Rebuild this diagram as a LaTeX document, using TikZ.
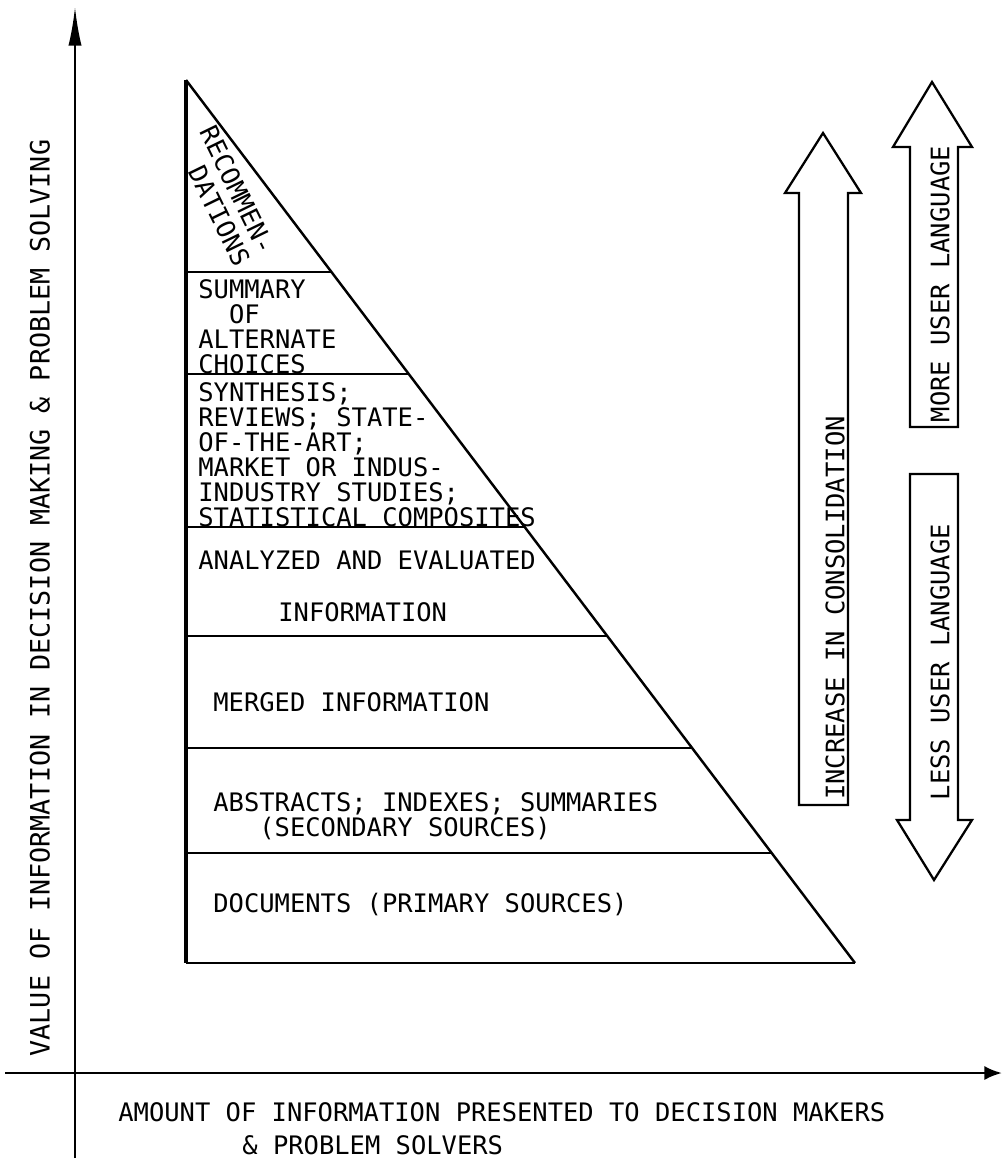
\documentclass[tikz,border=0pt]{standalone}
\usepackage{fontspec}
\newfontfamily\plotfont{DejaVu Sans Mono}
\usetikzlibrary{arrows.meta}

\begin{document}
\begin{tikzpicture}[x=0.02cm,y=-0.02cm,
    lbl/.style={font={\plotfont\fontsize{14.5}{14.2}\selectfont}, inner sep=0pt, align=left},
    edge/.style={line width=1.4pt},
    band/.style={line width=1.1pt},
    blockarrow/.style={draw, line width=1.3pt, line join=miter, fill=white}]
            \fill[white] (0,0) rectangle (1003,1162);

            % axes
            \coordinate (ybot) at (75,1158);
            \coordinate (ytop) at (75,7);
            \coordinate (xleft) at (5,1073);
            \coordinate (xright) at (1002,1073);
            \draw[line width=1.2pt, -{Latex[length=22pt,width=7.5pt]}] (ybot) -- (ytop);
            \draw[line width=1.5pt, -{Latex[length=10pt,width=8pt]}] (xleft) -- (xright);

            % triangle and its bands
            \coordinate (apex) at (186,80);
            \coordinate (bl) at (186,963);
            \coordinate (br) at (855,963);
            \draw[edge] (br) -- (apex);
            \draw[band] (bl) -- (br);
            \draw[line width=2pt] (apex) -- (bl);
            \foreach \y in {272,374,527,636,748,853}
            {
                \draw[band] (186,\y) -- ({186+(\y-80)/883*669},\y);
            }

            \node[lbl, rotate=-64] (recom) at (225,196) {RECOMMEN-\\[1.5pt]\ \ DATIONS};
            \node[lbl, anchor=west] (summ) at (198,327) {SUMMARY\\\ \ OF\\ALTERNATE\\CHOICES};
            \node[lbl, anchor=west] (synth) at (198,455) {SYNTHESIS;\\REVIEWS; STATE-\\OF-THE-ART;\\MARKET OR INDUS-\\INDUSTRY STUDIES;\\STATISTICAL COMPOSITES};
            \node[lbl, anchor=west] (anev) at (198,560) {ANALYZED AND EVALUATED};
            \node[lbl, anchor=west] (aninfo) at (278,612) {INFORMATION};
            \node[lbl, anchor=west] (merged) at (213,702) {MERGED INFORMATION};
            \node[lbl, anchor=west] (abstr) at (213,816) {ABSTRACTS; INDEXES; SUMMARIES\\\ \ \ (SECONDARY SOURCES)};
            \node[lbl, anchor=west] (docs) at (213,905) {DOCUMENTS (PRIMARY SOURCES)};

            % block arrows
            \draw[blockarrow] (799,805) -- (799,193) -- (785,193) -- (823,133) -- (861,193) -- (848,193) -- (848,805) -- cycle;
            \draw[blockarrow] (910,427) -- (910,147) -- (893,147) -- (932,82) -- (972,147) -- (958,147) -- (958,427) -- cycle;
            \draw[blockarrow] (910,474) -- (910,820) -- (897,820) -- (934,880) -- (972,820) -- (958,820) -- (958,474) -- cycle;
            \node[lbl, rotate=90] (consol) at (835,608) {INCREASE IN CONSOLIDATION};
            \node[lbl, rotate=90] (more) at (940,284) {MORE USER LANGUAGE};
            \node[lbl, rotate=90] (less) at (940,662) {LESS USER LANGUAGE};

            % axis labels
            \node[lbl, rotate=90, font={\plotfont\fontsize{15.2}{16}\selectfont}] (ylab) at (40,598) {VALUE OF INFORMATION IN DECISION MAKING \& PROBLEM SOLVING};
            \node[lbl, anchor=west] (xlab) at (118,1112) {AMOUNT OF INFORMATION PRESENTED TO DECISION MAKERS};
            \node[lbl, anchor=west] (xlab2) at (242,1145) {\& PROBLEM SOLVERS};
\end{tikzpicture}
\end{document}
